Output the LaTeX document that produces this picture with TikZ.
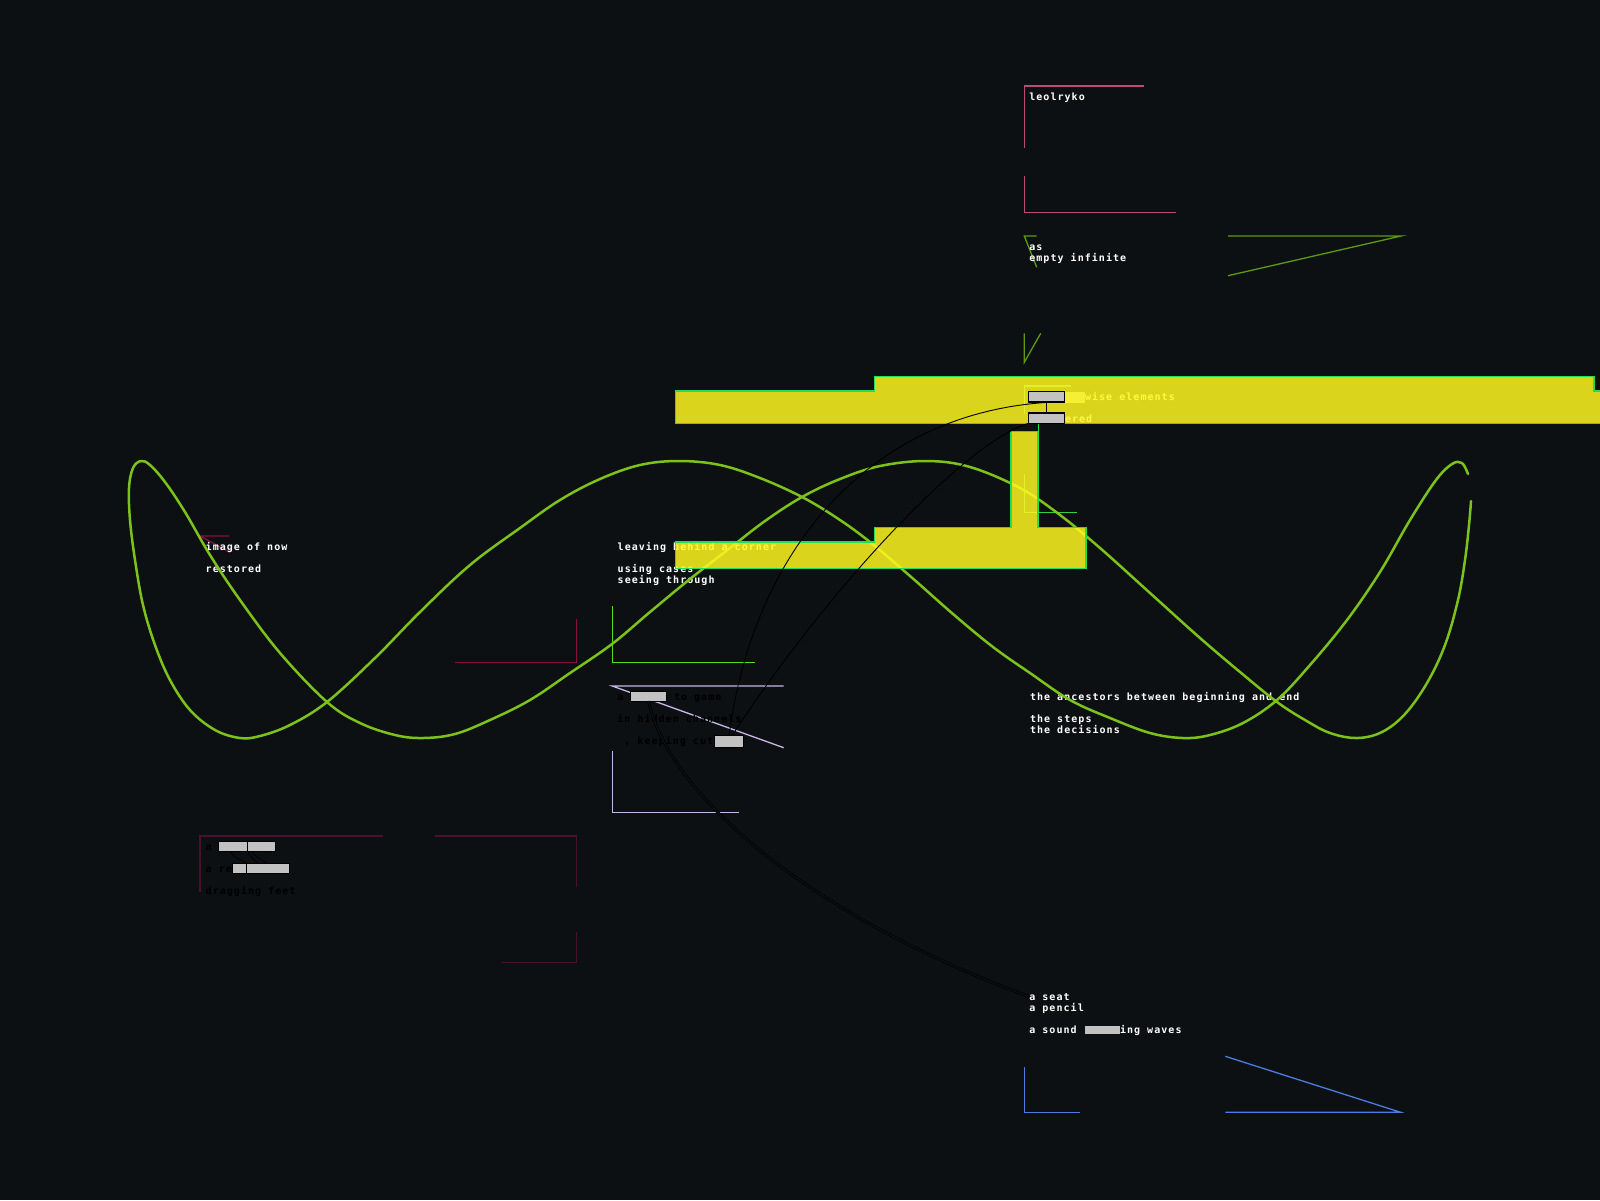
\documentclass[tikz,border=0pt]{standalone}
\usepackage{fontspec}
\newfontfamily\pix[LetterSpace=10.5]{DejaVu Sans Mono}
\definecolor{bg}{HTML}{0C1013}
\definecolor{curvegreen}{HTML}{7CC21A}
\definecolor{yel}{HTML}{FFF81E}
\definecolor{ygreen}{HTML}{22DD55}
\definecolor{gboxc}{HTML}{C2C2C2}
\definecolor{pinkf}{HTML}{B84A78}
\definecolor{olivef}{HTML}{5C9A12}
\definecolor{limef}{HTML}{55DD22}
\definecolor{lavf}{HTML}{C8B8E8}
\definecolor{crimf}{HTML}{8C0C40}
\definecolor{maroonf}{HTML}{4A1030}
\definecolor{bluef}{HTML}{4C7CE0}
\definecolor{boxf}{HTML}{30D040}
\definecolor{darktxt}{HTML}{000000}
\begin{document}
\begin{tikzpicture}[x=1pt,y=-1pt,
  txt/.style={anchor=base west, inner sep=0, outer sep=0, text=white, font=\pix\bfseries\fontsize{10}{11}\selectfont},
  dtxt/.style={txt, text=darktxt},
  gbox/.style={draw=black, line width=1, fill=gboxc, inner sep=0, outer sep=0},
  link/.style={draw=black, line width=0.9},
  frame/.style={line width=1.3},
  wave/.style={draw=curvegreen, line width=2.5, line join=round, line cap=round}]
\useasboundingbox (0,0) rectangle (1600,1200);
\fill[bg] (0,0) rectangle (1600,1200);

% decorative frames
\draw[frame, pinkf] (1143.7,86) -- (1024.3,86) -- (1024.3,147.7);
\draw[frame, pinkf] (1024.3,176) -- (1024.3,212.3) -- (1175.7,212.3);
\draw[frame, olivef] (1036.7,236) -- (1024.3,236) -- (1036.7,267.3);
\draw[frame, olivef] (1228,236) -- (1401,236) -- (1228,275.7);
\draw[frame, olivef] (1024.3,333.3) -- (1024.3,362.3) -- (1040.7,333.3);
\draw[frame, boxf] (1070.7,386) -- (1024.3,386) -- (1024.3,414);
\draw[frame, boxf] (1024.3,474) -- (1024.3,512.3) -- (1076.7,512.3);
\draw[frame, limef] (612.3,606) -- (612.3,662.3) -- (754.7,662.3);
\draw[frame, lavf] (783.7,686) -- (612.3,686) -- (783.7,747.7);
\draw[frame, lavf] (612.3,751) -- (612.3,812.3) -- (738.7,812.3);
\draw[frame, crimf] (229.3,536) -- (200,536) -- (230,552.3);
\draw[frame, crimf] (576.3,619) -- (576.3,662.3) -- (455,662.3);
\draw[frame, maroonf] (382.7,836) -- (200,836) -- (200,892.3);
\draw[frame, maroonf] (435,836) -- (576.7,836) -- (576.7,886.7);
\draw[frame, maroonf] (576.7,932.3) -- (576.7,962.3) -- (502,962.3);
\draw[frame, bluef] (1024.3,1067.3) -- (1024.3,1112.3) -- (1080,1112.3);
\draw[frame, bluef] (1225.3,1056.3) -- (1400.7,1112.3) -- (1225.3,1112.3);

% texts
\node[txt] (leo) at (1029.3,100) {leolryko};
\node[txt] (as) at (1029.3,250) {as};
\node[txt] (empty) at (1029.3,261) {empty infinite};
\node[gbox, draw=none, minimum width=20, minimum height=11] (gh) at (1075,397.2) {};
\node[txt] (wise) at (1085,400) {wise elements};
\node[txt] (ered) at (1065,422.5) {ered};
\node[txt] (image) at (205.7,550) {image of now};
\node[txt] (restored) at (205.7,572) {restored};
\node[txt] (leaving) at (617.7,550) {leaving behind a corner};
\node[txt] (using) at (617.7,572) {using cases};
\node[txt] (seeing) at (617.7,583) {seeing through};
\node[dtxt] (a1) at (617.3,700) {a};
\node[dtxt] (togame) at (674,700) {to game};
\node[dtxt] (hidden) at (617.3,722) {in hidden channels};
\node[dtxt] (keeping) at (617.3,744) {\ , keeping cut};
\node[txt] (anc) at (1030,700.3) {the ancestors between beginning and end};
\node[txt] (steps) at (1030,722) {the steps};
\node[txt] (dec) at (1030,733) {the decisions};
\node[txt] (seat) at (1029.3,1000) {a seat};
\node[txt] (pencil) at (1029.3,1011) {a pencil};
\node[txt] (sound) at (1029.3,1033) {a sound};
\node[txt] (waves) at (1120,1033) {ing waves};
\node[dtxt] (bla) at (205.7,850) {a};
\node[dtxt] (blre) at (205.7,872) {a re};
\node[dtxt] (drag) at (205.7,894) {dragging feet};

% the green wave
\draw[wave] plot[smooth, tension=0.6] coordinates {
 (1468,474) (1462,463) (1452,464) (1436,480) (1410,520) (1380,572) (1347,620) (1310,665)
 (1277,700) (1243,723) (1210,735) (1183,738) (1150,733) (1110,718) (1070,700) (1030,673)
 (993,647) (953,614) (910,576) (870,542) (837,518) (802,497) (760,478) (720,465) (679,461)
 (640,465) (600,479) (560,500) (520,528) (470,565) (420,612) (375,658) (327,702) (290,725)
 (260,736) (240,738) (215,730) (190,710) (170,680) (155,645) (143,605) (135,560) (130,520)
 (129,488) (133,468) (141,461) (150,465) (165,482) (185,512) (210,555) (240,600) (280,653)
 (327,702) (360,723) (395,735) (423,738) (455,734) (490,720) (530,700) (570,673) (612,644)
 (650,612) (690,579) (730,548) (765,521) (802,497) (840,479) (880,466) (927,461) (970,467)
 (1020,488) (1060,515) (1100,548) (1150,593) (1200,638) (1240,672) (1277,702) (1305,720)
 (1330,733) (1357,738) (1382,732) (1405,714) (1427,683) (1445,645) (1458,600) (1465,560)
 (1469,525) (1471,501)};

% yellow shapes
\path[fill=yel, fill opacity=0.85, draw=ygreen, line width=1.5]
  (675.5,391) -- (874.5,391) -- (874.5,376.5) -- (1594,376.5) -- (1594,391) -- (1610,391)
  -- (1610,423.5) -- (675.5,423.5) -- cycle;
\path[fill=yel, fill opacity=0.85, draw=ygreen, line width=1.5]
  (675.5,542) -- (874.5,542) -- (874.5,527.6) -- (1011,527.6) -- (1011,431.5) -- (1038,431.5)
  -- (1038,527.6) -- (1086,527.6) -- (1086,568.4) -- (675.5,568.4) -- cycle;
\draw[ygreen, line width=1] (1038,423.5) -- (1038,431.5);

% gray boxes
\node[gbox, line width=1.6, minimum width=36, minimum height=10.4] (g1) at (1046.3,396.5) {};
\node[gbox, line width=1.6, minimum width=36, minimum height=10.3] (g2) at (1046.3,418.2) {};
\draw[black, line width=1.5] (g1.south) -- (g2.north);
\node[gbox, minimum width=35.6, minimum height=9.3] (ga) at (648.5,696.4) {};
\node[gbox, minimum width=28.6, minimum height=11.3] (gc) at (729,741.4) {};
\node[gbox, draw=none, minimum width=35, minimum height=8] (gs) at (1102.5,1030) {};
\node[gbox, minimum width=29, minimum height=9.6, anchor=west] (bl1a) at (218.7,846.5) {};
\node[gbox, minimum width=27.6, minimum height=9.6, anchor=west] (bl1b) at (bl1a.east) {};
\node[gbox, minimum width=14.4, minimum height=10, anchor=west] (bl2a) at (232.3,868.3) {};
\node[gbox, minimum width=42.6, minimum height=10, anchor=west] (bl2b) at (bl2a.east) {};

% connectors
\draw[link] (g1.south east) .. controls (880,405) and (755,540) .. (gc.north);
\draw[link] (g2.south west) .. controls (960,445) and (820,600) .. ([xshift=3]gc.north);
\draw[draw=black, line width=0.7, double=bg, double distance=1.4]
  (ga.south) .. controls (670,800) and (820,920) .. (seat.west);
\draw[link, line width=0.7] ([xshift=-2]bl1a.south) .. controls +(0,6) and +(-4,-3) .. (bl2a.north east);
\draw[link, line width=0.7] (bl1a.south east) .. controls +(2,5) and +(-4,-3) .. ([xshift=12]bl2b.north west);
\draw[link, line width=0.7] ([xshift=4]bl1b.south west) .. controls +(3,5) and +(-4,-3) .. ([xshift=20]bl2b.north west);
\end{tikzpicture}
\end{document}
